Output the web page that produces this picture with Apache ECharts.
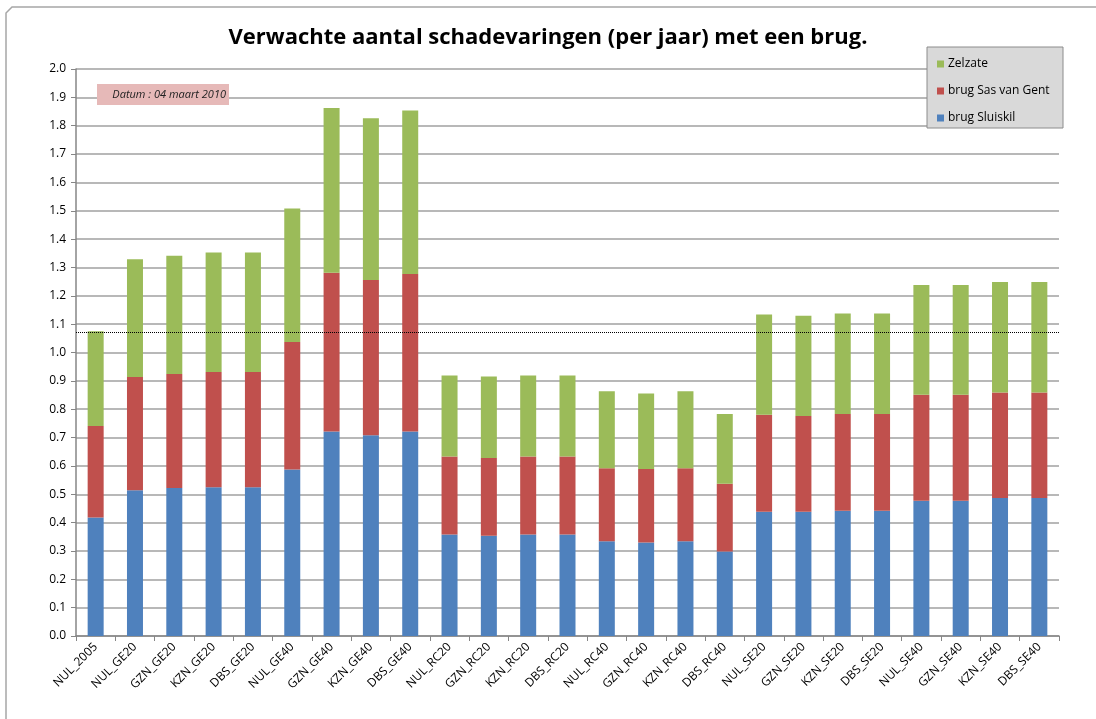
<!DOCTYPE html>
<html>
<head>
<meta charset="utf-8">
<script src="https://cdn.jsdelivr.net/npm/echarts@6/dist/echarts.min.js"></script>
<style>
html, body { margin: 0; padding: 0; background: #fff; }
#chart { width: 1096px; height: 719px; }
</style>
</head>
<body>
<div id="chart"></div>
<script>
// categories (scenario names)
var categories = ['NUL_2005', 'NUL_GE20', 'GZN_GE20', 'KZN_GE20', 'DBS_GE20', 'NUL_GE40', 'GZN_GE40', 'KZN_GE40', 'DBS_GE40',
  'NUL_RC20', 'GZN_RC20', 'KZN_RC20', 'DBS_RC20', 'NUL_RC40', 'GZN_RC40', 'KZN_RC40', 'DBS_RC40',
  'NUL_SE20', 'GZN_SE20', 'KZN_SE20', 'DBS_SE20', 'NUL_SE40', 'GZN_SE40', 'KZN_SE40', 'DBS_SE40'];

// stacked segments
var sluiskil = [0.418, 0.514, 0.522, 0.525, 0.525, 0.587, 0.721, 0.708, 0.721,
  0.358, 0.354, 0.358, 0.358, 0.334, 0.330, 0.334, 0.298,
  0.438, 0.438, 0.442, 0.442, 0.477, 0.477, 0.487, 0.487];
var sasVanGent = [0.323, 0.400, 0.402, 0.406, 0.406, 0.450, 0.560, 0.548, 0.556,
  0.275, 0.274, 0.275, 0.275, 0.258, 0.259, 0.258, 0.239,
  0.342, 0.338, 0.341, 0.341, 0.374, 0.374, 0.372, 0.372];
var zelzate = [0.334, 0.415, 0.417, 0.422, 0.422, 0.471, 0.581, 0.570, 0.577,
  0.286, 0.287, 0.286, 0.286, 0.271, 0.266, 0.271, 0.246,
  0.354, 0.354, 0.355, 0.355, 0.387, 0.387, 0.390, 0.390];

// reference level (total of NUL_2005)
var refLevel = 1.072;

var font = 'Open Sans';
var dom = document.getElementById('chart');
var chart = echarts.init(dom, null, { renderer: 'canvas' });

var barBase = {
  type: 'bar',
  stack: 'total',
  barWidth: 16,
  animation: false
};

var option = {
  animation: false,
  textStyle: { fontFamily: font },
  title: {
    text: 'Verwachte aantal schadevaringen (per jaar) met een brug.',
    left: 'center',
    top: 22,
    textStyle: { fontFamily: font, fontSize: 22, fontWeight: 'bold', color: '#000' }
  },
  graphic: [
    {
      // outer frame (only left and top edges are inside the picture)
      type: 'polyline',
      shape: { points: [[6, 800], [6, 13], [12, 7], [1300, 7]] },
      style: { fill: 'none', stroke: '#a6a6a6', lineWidth: 1.5 },
      z: 0
    },
    {
      type: 'rect',
      shape: { x: 927, y: 47, width: 136, height: 81 },
      style: { fill: '#d9d9d9', stroke: '#8c8c8c', lineWidth: 1 },
      z: 5
    },
    {
      type: 'rect',
      shape: { x: 97, y: 84, width: 132, height: 21 },
      style: { fill: '#e6b9b8' },
      z: 5
    },
    {
      type: 'text',
      x: 226,
      y: 95,
      style: {
        text: 'Datum : 04 maart 2010',
        align: 'right',
        verticalAlign: 'middle',
        fontFamily: font,
        fontStyle: 'italic',
        fontSize: 11,
        fill: '#222'
      },
      z: 6
    }
  ],
  legend: {
    orient: 'vertical',
    left: 932,
    top: 53,
    itemWidth: 7,
    itemHeight: 7,
    itemGap: 15,
    icon: 'rect',
    z: 6,
    data: ['Zelzate', 'brug Sas van Gent', 'brug Sluiskil'],
    textStyle: { fontFamily: font, fontSize: 12, color: '#000', padding: [0, 0, 0, -1] }
  },
  grid: {
    left: 76,
    right: 37,
    top: 69,
    bottom: 83,
    containLabel: false
  },
  xAxis: {
    type: 'category',
    data: categories,
    axisLine: { lineStyle: { color: '#868686', width: 1.5 } },
    axisTick: { show: true, interval: 0, length: 5, lineStyle: { color: '#868686' } },
    axisLabel: {
      interval: 0,
      rotate: 45,
      fontFamily: font,
      fontSize: 12,
      color: '#000',
      margin: 9
    }
  },
  yAxis: {
    type: 'value',
    min: 0,
    max: 2.0,
    interval: 0.1,
    axisLine: { show: true, lineStyle: { color: '#868686', width: 1.5 } },
    axisTick: { show: true, length: 5, lineStyle: { color: '#868686' } },
    axisLabel: {
      fontFamily: font,
      fontSize: 12,
      color: '#000',
      margin: 10,
      formatter: function (v) { return v.toFixed(1); }
    },
    splitLine: { show: true, lineStyle: { color: '#a0a0a0', width: 1.5 } }
  },
  series: [
    Object.assign({}, barBase, {
      name: 'brug Sluiskil',
      data: sluiskil,
      itemStyle: { color: '#4f81bd' },
      markLine: {
        silent: true,
        symbol: 'none',
        label: { show: false },
        lineStyle: { color: '#000', type: [1, 1], width: 1 },
        data: [{ yAxis: refLevel }]
      }
    }),
    Object.assign({}, barBase, {
      name: 'brug Sas van Gent',
      data: sasVanGent,
      itemStyle: { color: '#c0504d' }
    }),
    Object.assign({}, barBase, {
      name: 'Zelzate',
      data: zelzate,
      itemStyle: { color: '#9bbb59' }
    })
  ]
};

chart.setOption(option);
window.addEventListener('resize', function () { chart.resize(); });
</script>
</body>
</html>
